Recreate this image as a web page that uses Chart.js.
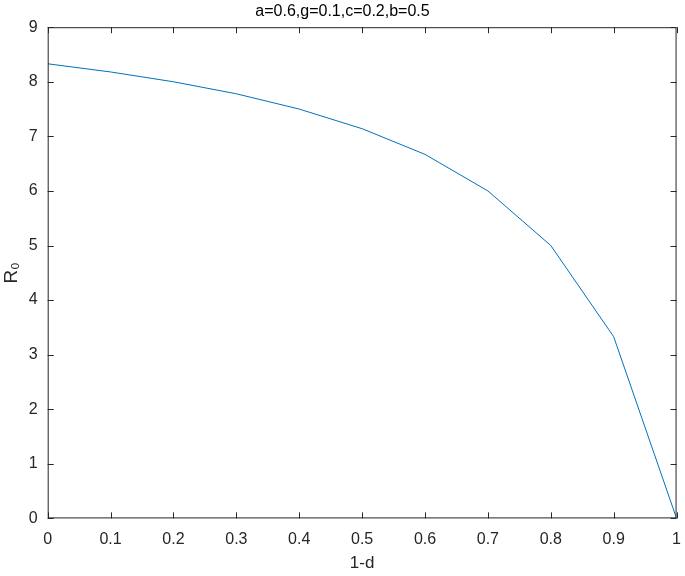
<!DOCTYPE html>
<html><head><meta charset="utf-8">
<script src="https://cdn.jsdelivr.net/npm/chart.js@4/dist/chart.umd.min.js"></script>
<style>html,body{margin:0;padding:0;background:#fff}#w{width:685px;height:576px}</style>
</head><body><div id="w"><canvas id="c"></canvas></div>
<script>
const xValues = [0,0.1,0.2,0.3,0.4,0.5,0.6,0.7,0.8,0.9,1];
const r0Values = [8.33,8.18,8.0,7.78,7.5,7.14,6.67,6.0,5.0,3.33,0];
const chartTitle = 'a=0.6,g=0.1,c=0.2,b=0.5';
const xLabel = '1-d';
const yLabel = 'R\u2080';

const boxTicks = {
  id:'boxTicks',
  afterDraw(chart){
    const {ctx, chartArea:a, scales:{x,y}} = chart;
    ctx.save();
    ctx.strokeStyle='#262626'; ctx.lineWidth=1;
    ctx.strokeRect(a.left+0.5,a.top+0.5,a.right-a.left-1,a.bottom-a.top-1);
    ctx.beginPath();
    x.ticks.forEach(t=>{const p=Math.round(x.getPixelForValue(t.value))+0.5;
      ctx.moveTo(p,a.bottom);ctx.lineTo(p,a.bottom-6);ctx.moveTo(p,a.top);ctx.lineTo(p,a.top+6);});
    y.ticks.forEach(t=>{const p=Math.round(y.getPixelForValue(t.value))+0.5;
      ctx.moveTo(a.left,p);ctx.lineTo(a.left+6,p);ctx.moveTo(a.right,p);ctx.lineTo(a.right-6,p);});
    ctx.stroke(); ctx.restore();
  }
};

new Chart(document.getElementById('c'),{
  type:'line',
  data:{datasets:[{data:xValues.map((v,i)=>({x:v,y:r0Values[i]})),borderColor:'#0072BD',borderWidth:1,pointRadius:0,tension:0}]},
  options:{
    responsive:true,maintainAspectRatio:false,animation:false,
    layout:{padding:{left:0,right:0,top:0,bottom:0}},
    plugins:{legend:{display:false},tooltip:{enabled:false},
      title:{display:true,text:chartTitle,color:'#000',font:{family:'Liberation Sans',size:16,weight:'normal'},padding:{top:2,bottom:6}}},
    scales:{
      x:{type:'linear',min:0,max:1,border:{display:false},
        grid:{display:false},
        ticks:{stepSize:0.1,color:'#262626',font:{family:'Liberation Sans',size:16},padding:4,maxRotation:0,
          callback:v=>Number(v.toFixed(1)).toString()},
        title:{display:true,text:xLabel,color:'#262626',font:{family:'Liberation Sans',size:17},padding:{top:0,bottom:2}}},
      y:{min:0,max:9,border:{display:false},
        grid:{display:false},
        ticks:{stepSize:1,color:'#262626',font:{family:'Liberation Sans',size:16},padding:2},
        title:{display:true,text:yLabel,color:'#262626',font:{family:'Liberation Sans',size:19},padding:{top:0,bottom:4}}}
    }
  },
  plugins:[boxTicks]
});
</script></body></html>
